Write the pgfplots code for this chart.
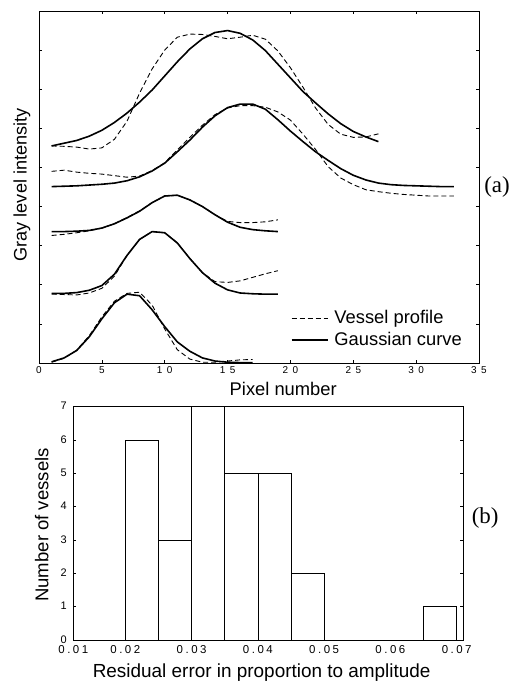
\documentclass[border=0pt]{standalone}
\usepackage{fontspec}
\setmainfont{Liberation Sans}
\newfontfamily\serifa{Liberation Serif}
\newfontfamily\tickA[LetterSpace=45]{Liberation Sans}
\newfontfamily\tickB[LetterSpace=22]{Liberation Sans}
\usepackage{pgfplots}
\pgfplotsset{compat=1.18}
\begin{document}
\begin{tikzpicture}
\path[use as bounding box] (0bp,0bp) rectangle (513bp,681bp);
\begin{axis}[
  at={(39bp,318bp)}, anchor=south west,
  width=440bp, height=352bp, scale only axis, clip=false,
  xmin=0, xmax=35, ymin=0, ymax=9,
  xtick={0,5,10,15,20,25,30,35},
  xticklabels={0,5,10,15,20,25,30,35},
  ytick={1,2,3,4,5,6,7,8}, yticklabels={},
  tick align=inside, major tick length=3bp,
  tick style={black, line width=0.6bp},
  axis line style={line width=0.8bp},
  x tick label style={font=\tickA\fontsize{10}{11}\selectfont},
  xlabel={Pixel number},
  xlabel style={at={(axis description cs:0.555,-0.074)}, anchor=center, font=\fontsize{18.4}{22}\selectfont},
  ylabel={Gray level intensity},
  ylabel style={at={(axis description cs:-0.039,0.506)}, anchor=center, font=\fontsize{18.2}{22}\selectfont},
  legend style={at={(rel axis cs:0.572,0.155)}, anchor=north west, draw=none, fill=none,
    font=\fontsize{18.4}{22}\selectfont, row sep=3bp, inner sep=0pt},
  legend cell align=left,
  legend image code/.code={\draw[#1] (0bp,0bp) -- (36bp,0bp); \path (40bp,0bp);},
  dprof/.style={black, line width=0.9bp, dash pattern=on 5bp off 3bp},
  gcurve/.style={black, line width=1.6bp},
]
% curve 1
\addplot[dprof] coordinates {(1,5.55)(2,5.54)(3,5.52)(4,5.47)(5,5.50)(6,5.72)(7,6.18)(8,6.90)(9,7.52)(10,8.00)(11,8.33)(12,8.41)(13,8.40)(14,8.35)(15,8.29)(16,8.33)(17,8.38)(18,8.28)(19,7.98)(20,7.55)(21,7.05)(22,6.52)(23,6.10)(24,5.85)(25,5.77)(26,5.78)(27,5.86)};
\addlegendentry{Vessel profile}
\addplot[gcurve] coordinates {(1,5.55)(2,5.62)(3,5.69)(4,5.80)(5,5.95)(6,6.15)(7,6.39)(8,6.67)(9,6.98)(10,7.34)(11,7.70)(12,8.03)(13,8.29)(14,8.45)(15,8.50)(16,8.43)(17,8.26)(18,7.99)(19,7.64)(20,7.29)(21,6.94)(22,6.65)(23,6.37)(24,6.12)(25,5.92)(26,5.78)(27,5.66)};
\addlegendentry{Gaussian curve}
% curve 2
\addplot[dprof, forget plot] coordinates {(1,4.90)(2,4.93)(3,4.88)(4,4.85)(5,4.83)(6,4.79)(7,4.75)(8,4.78)(9,4.92)(10,5.12)(11,5.45)(12,5.77)(13,6.08)(14,6.35)(15,6.52)(16,6.58)(17,6.58)(18,6.54)(19,6.42)(20,6.21)(21,5.85)(22,5.46)(23,5.02)(24,4.73)(25,4.56)(26,4.43)(27,4.38)(28,4.34)(29,4.31)(30,4.29)(31,4.27)(32,4.27)(33,4.27)};
\addplot[gcurve, forget plot] coordinates {(1,4.51)(2,4.52)(3,4.53)(4,4.55)(5,4.57)(6,4.60)(7,4.66)(8,4.76)(9,4.91)(10,5.11)(11,5.40)(12,5.70)(13,6.03)(14,6.32)(15,6.53)(16,6.62)(17,6.62)(18,6.49)(19,6.22)(20,5.93)(21,5.66)(22,5.40)(23,5.18)(24,4.97)(25,4.80)(26,4.68)(27,4.60)(28,4.56)(29,4.54)(30,4.53)(31,4.52)(32,4.51)(33,4.51)};
% curve 3
\addplot[dprof, forget plot] coordinates {(1,3.26)(2,3.29)(3,3.33)(4,3.38)(5,3.45)(6,3.56)(7,3.72)(8,3.89)(9,4.10)(10,4.27)(11,4.29)(12,4.17)(13,4.00)(14,3.79)(15,3.62)(16,3.59)(17,3.59)(18,3.61)(19,3.66)};
\addplot[gcurve, forget plot] coordinates {(1,3.36)(2,3.36)(3,3.37)(4,3.39)(5,3.45)(6,3.56)(7,3.71)(8,3.88)(9,4.10)(10,4.27)(11,4.29)(12,4.17)(13,4.00)(14,3.79)(15,3.60)(16,3.47)(17,3.41)(18,3.38)(19,3.36)};
% curve 4
\addplot[dprof, forget plot] coordinates {(1,1.76)(2,1.75)(3,1.74)(4,1.79)(5,1.91)(6,2.22)(7,2.75)(8,3.16)(9,3.36)(10,3.33)(11,3.07)(12,2.67)(13,2.31)(14,2.08)(15,2.06)(16,2.10)(17,2.19)(18,2.28)(19,2.36)};
\addplot[gcurve, forget plot] coordinates {(1,1.78)(2,1.78)(3,1.80)(4,1.86)(5,1.98)(6,2.27)(7,2.75)(8,3.16)(9,3.36)(10,3.33)(11,3.07)(12,2.67)(13,2.31)(14,2.04)(15,1.87)(16,1.79)(17,1.77)(18,1.76)(19,1.76)};
% curve 5
\addplot[dprof, forget plot] coordinates {(1,0.02)(2,0.12)(3,0.33)(4,0.70)(5,1.18)(6,1.58)(7,1.78)(8,1.81)(9,1.48)(10,0.87)(11,0.34)(12,0.10)(13,0.02)(14,0.02)(15,0.05)(16,0.08)(17,0.09)};
\addplot[gcurve, forget plot] coordinates {(1,0.03)(2,0.13)(3,0.32)(4,0.67)(5,1.13)(6,1.54)(7,1.76)(8,1.72)(9,1.36)(10,0.93)(11,0.54)(12,0.30)(13,0.13)(14,0.05)(15,0.02)(16,0.01)(17,0.01)};
\node[font=\serifa\fontsize{23}{25}\selectfont] at (rel axis cs:1.041,0.5) {(a)};
\end{axis}
\begin{axis}[
  at={(73.3bp,41bp)}, anchor=south west,
  width=390bp, height=233.3bp, scale only axis, clip=false,
  xmin=0.01215, xmax=0.071, ymin=0, ymax=7,
  scaled x ticks=false,
  xtick={0.01215,0.02,0.03,0.04,0.05,0.06,0.07},
  xticklabels={0.01,0.02,0.03,0.04,0.05,0.06,0.07},
  ytick={0,1,2,3,4,5,6,7}, yticklabels={0,1,2,3,4,5,6,7},
  tick align=inside, major tick length=3bp,
  tick style={black, line width=0.6bp},
  x tick style={draw=none},
  axis line style={line width=0.8bp},
  x tick label style={font=\tickB\fontsize{11.5}{13}\selectfont, inner sep=0.5bp, yshift=-5bp},
  y tick label style={font=\fontsize{11}{13}\selectfont, inner sep=0.5bp, xshift=-6bp, yshift=0.5bp},
  xlabel={Residual error in proportion to amplitude},
  xlabel style={at={(axis description cs:0.483,-0.138)}, anchor=center, font=\fontsize{19}{22}\selectfont},
  ylabel={Number of vessels},
  ylabel style={at={(axis description cs:-0.081,0.493)}, anchor=center, font=\fontsize{18.6}{22}\selectfont},
]
\addplot[ybar interval, fill=white, draw=black, line width=0.7bp] coordinates {(0.02,6)(0.025,3)(0.03,7)(0.035,5)(0.04,5)(0.045,2)(0.05,0)(0.055,0)(0.06,0)(0.065,1)(0.07,1)};
\node[font=\serifa\fontsize{23}{25}\selectfont] at (rel axis cs:1.056,0.523) {(b)};
\end{axis}
\end{tikzpicture}
\end{document}
